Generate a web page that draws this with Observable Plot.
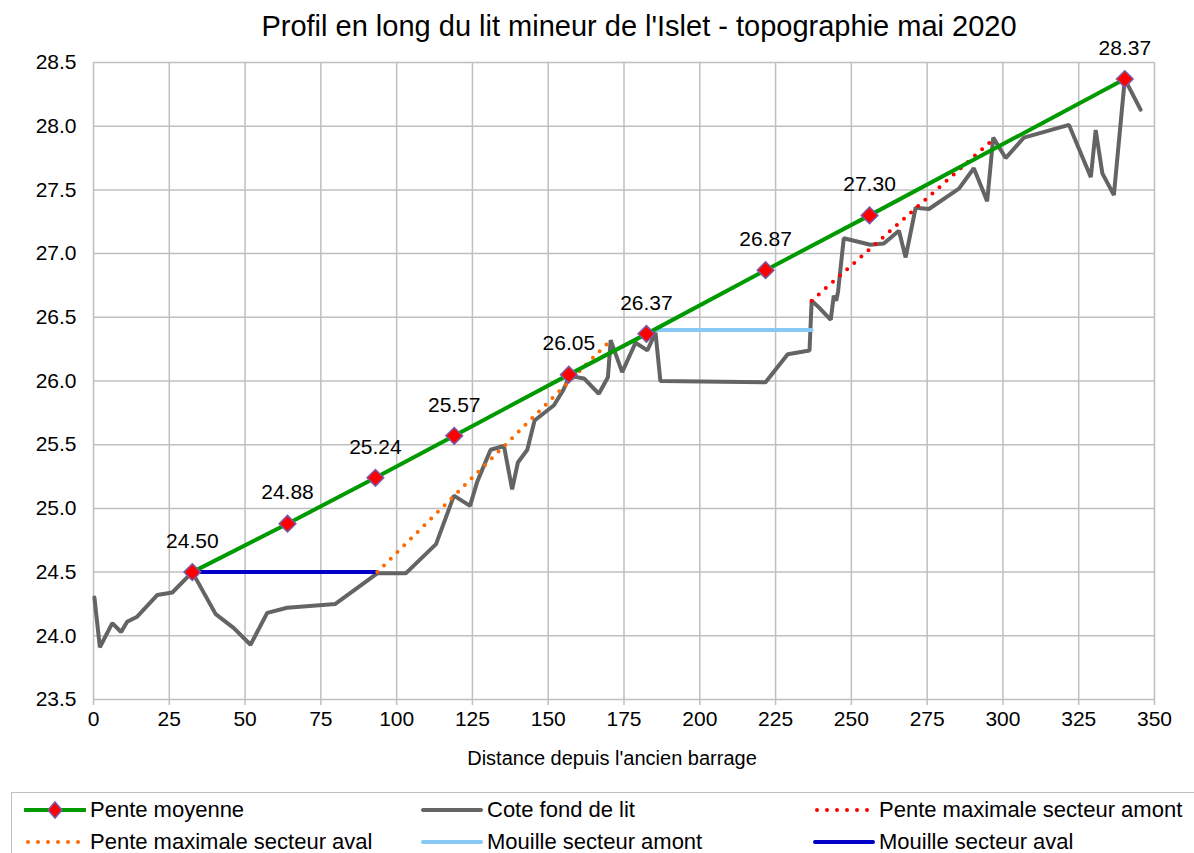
<!DOCTYPE html>
<html><head><meta charset="utf-8">
<script src="https://cdn.jsdelivr.net/npm/d3@7"></script>
<script src="https://cdn.jsdelivr.net/npm/@observablehq/plot@0.6"></script>
<style>
body{margin:0;background:#fff;font-family:"Liberation Sans",Arial,sans-serif;}
#wrap{position:relative;width:1194px;height:853px;overflow:hidden;}
#title{height:46px;box-sizing:border-box;padding-left:84px;padding-top:6px;line-height:40px;text-align:center;font-size:29px;color:#000;white-space:nowrap;}
#chart svg{overflow:visible;display:block;}
#legend{position:absolute;left:11px;top:792px;width:1200px;height:80px;border:1.5px solid #bfbfbf;box-sizing:border-box;}
.item{position:absolute;display:flex;align-items:center;font-size:22px;color:#000;white-space:nowrap;}
.item svg{display:block;margin-right:4px;}
</style></head>
<body><div id="wrap">
<div id="title">Profil en long du lit mineur de l'Islet - topographie mai 2020</div>
<div id="chart"></div>
<div id="legend"></div>
</div>
<script>
// Cote fond de lit
const coteDist = [0.3, 2.1, 6.2, 9.1, 11.1, 14.4, 21, 26, 32.6, 40.3, 46.3, 51.8, 57.3, 63.9, 79.8, 93.6, 103, 113, 118.9, 124.2, 126.6, 131, 135.4, 138.1, 140, 143.1, 145.5, 151.9, 155, 157.1, 161.8, 166.7, 169.7, 170.6, 174.4, 178.8, 182.7, 185.4, 187, 221.7, 229, 236.2, 236.9, 239.2, 243.2, 244.2, 245, 245.6, 247.5, 256.3, 260.7, 265.7, 267.9, 271.2, 275.6, 285.5, 290.4, 294.8, 296.8, 300.9, 306.9, 321.8, 329, 330.6, 332.8, 336.6, 340.2, 345.4];
const coteZ = [24.30, 23.91, 24.10, 24.03, 24.11, 24.15, 24.32, 24.34, 24.50, 24.17, 24.06, 23.93, 24.18, 24.22, 24.25, 24.49, 24.49, 24.72, 25.10, 25.02, 25.21, 25.46, 25.49, 25.15, 25.36, 25.46, 25.69, 25.81, 25.93, 26.04, 26.02, 25.90, 26.03, 26.32, 26.07, 26.30, 26.24, 26.38, 26.00, 25.99, 26.21, 26.24, 26.63, 26.58, 26.48, 26.67, 26.63, 26.70, 27.12, 27.07, 27.08, 27.18, 26.97, 27.36, 27.35, 27.51, 27.67, 27.41, 27.91, 27.75, 27.91, 28.01, 27.60, 27.97, 27.63, 27.46, 28.37, 28.13];
// Pente moyenne
const penteDist = [32.6, 64, 93, 119, 156.8, 182.4, 221.7, 256, 340.2];
const penteZ = [24.50, 24.88, 25.24, 25.57, 26.05, 26.37, 26.87, 27.30, 28.37];
// Pente maximale secteur aval / amont
const avalPenteDist = [93.6, 170.6];
const avalPenteZ = [24.50, 26.32];
const amontPenteDist = [236.9, 296.5];
const amontPenteZ = [26.63, 27.89];
// Mouilles
const mouilleAmontDist = [185.4, 236.9];
const mouilleAmontZ = [26.40, 26.40];
const mouilleAvalDist = [32.6, 93.6];
const mouilleAvalZ = [24.50, 24.50];
// Axes
const xTicks = [0, 25, 50, 75, 100, 125, 150, 175, 200, 225, 250, 275, 300, 325, 350];
const yTicks = [23.5, 24, 24.5, 25, 25.5, 26, 26.5, 27, 27.5, 28, 28.5];

const zip = (xs, ys) => xs.map((x, i) => ({x, y: ys[i]}));
const cote = zip(coteDist, coteZ);
const pente = zip(penteDist, penteZ);
const avalPente = zip(avalPenteDist, avalPenteZ);
const amontPente = zip(amontPenteDist, amontPenteZ);
const mAmont = zip(mouilleAmontDist, mouilleAmontZ);
const mAval = zip(mouilleAvalDist, mouilleAvalZ);

const GRID = "#bfbfbf";
const chart = Plot.plot({
  width: 1194, height: 739,
  marginTop: 16, marginBottom: 86, marginLeft: 93, marginRight: 40,
  style: {fontFamily: "'Liberation Sans', Arial, sans-serif", fontSize: "21px", color: "#000", background: "#fff"},
  x: {domain: [0, 350]},
  y: {domain: [23.5, 28.5]},
  marks: [
    Plot.gridX(xTicks, {stroke: GRID, strokeOpacity: 1, strokeWidth: 1.5}),
    Plot.gridY(yTicks, {stroke: GRID, strokeOpacity: 1, strokeWidth: 1.5}),
    Plot.axisX({ticks: xTicks, stroke: GRID, strokeWidth: 1.5, tickSize: 6, tickPadding: 6, tickFormat: d => String(d), fontSize: 21,
      label: null}),
    Plot.text(["Distance depuis l'ancien barrage"], {frameAnchor: "bottom", dy: 65, fontSize: 20, fill: "#000", dx: -12}),
    Plot.axisY({ticks: yTicks, tickSize: 0, tickPadding: 17, tickFormat: d3.format(".1f"), label: null, fontSize: 21}),
    Plot.line(cote, {x: "x", y: "y", stroke: "#646464", strokeWidth: 4, strokeLinejoin: "miter"}),
    Plot.line(mAmont, {x: "x", y: "y", stroke: "#86c9f7", strokeWidth: 4, strokeLinecap: "round"}),
    Plot.line(mAval, {x: "x", y: "y", stroke: "#0000c8", strokeWidth: 4}),
    Plot.line(avalPente, {x: "x", y: "y", stroke: "#ff6a00", strokeWidth: 4, strokeDasharray: "0 9.5", strokeLinecap: "round"}),
    Plot.line(amontPente, {x: "x", y: "y", stroke: "#ff0000", strokeWidth: 4, strokeDasharray: "0 9.5", strokeLinecap: "round"}),
    Plot.line(pente, {x: "x", y: "y", stroke: "#009a00", strokeWidth: 4}),
    Plot.dot(pente, {x: "x", y: "y", symbol: "diamond2", r: 7.5, fill: "#ff0000", stroke: "#7a5aa8", strokeWidth: 1.5}),
    Plot.text(pente, {x: "x", y: "y", text: d => d.y.toFixed(2), dy: -31, fontSize: 21, fill: "#000"})
  ]
});
document.getElementById("chart").appendChild(chart);

// Legend
const legendItems = [
  {label: "Pente moyenne", left: 12, top: 1, kind: "pente"},
  {label: "Cote fond de lit", left: 409, top: 1, kind: "line", color: "#646464"},
  {label: "Pente maximale secteur amont", left: 801, top: 1, kind: "dots", color: "#ff0000"},
  {label: "Pente maximale secteur aval", left: 12, top: 33, kind: "dots", color: "#ff6a00"},
  {label: "Mouille secteur amont", left: 409, top: 33, kind: "line", color: "#86c9f7"},
  {label: "Mouille secteur aval", left: 801, top: 33, kind: "line", color: "#0000c8"}
];
const leg = document.getElementById("legend");
for (const it of legendItems) {
  const div = document.createElement("div");
  div.className = "item";
  div.style.left = it.left + "px";
  div.style.top = it.top + "px";
  div.style.height = "32px";
  let sym = "";
  if (it.kind === "pente") {
    sym = `<svg width="62" height="20"><line x1="1" y1="10" x2="61" y2="10" stroke="#009a00" stroke-width="4" stroke-linecap="round"/><path d="M31,2 L38,10 L31,18 L24,10Z" fill="#ff0000" stroke="#7a5aa8" stroke-width="1.5"/></svg>`;
  } else if (it.kind === "line") {
    sym = `<svg width="62" height="20"><line x1="2" y1="10" x2="60" y2="10" stroke="${it.color}" stroke-width="4" stroke-linecap="round"/></svg>`;
  } else {
    sym = `<svg width="62" height="20"><line x1="4" y1="10" x2="58" y2="10" stroke="${it.color}" stroke-width="4" stroke-dasharray="0 10" stroke-linecap="round"/></svg>`;
  }
  div.innerHTML = sym + `<span>${it.label}</span>`;
  leg.appendChild(div);
}
</script>
</body></html>
